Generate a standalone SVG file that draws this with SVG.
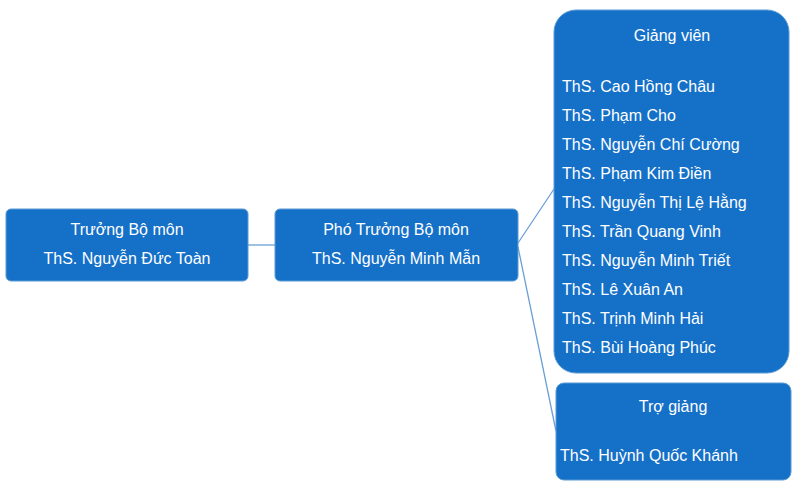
<svg xmlns="http://www.w3.org/2000/svg" width="800" height="490" viewBox="0 0 800 490">
<style>
.box{fill:#1570C8;stroke:#5B9BD5;stroke-width:1}
.t{font-family:"Liberation Sans",Arial,sans-serif;font-size:16px;fill:#FFFFFF}
.c{text-anchor:middle}
.ln{stroke:#6A9FD6;stroke-width:1.3;fill:none}
</style>
<rect width="800" height="490" fill="#FFFFFF"/>
<g id="connectors">
<line class="ln" x1="248" y1="245" x2="275" y2="245"/>
<line class="ln" x1="518" y1="243" x2="554" y2="189"/>
<line class="ln" x1="518" y1="247" x2="556" y2="431"/>
</g>
<g id="truong-bo-mon">
<rect class="box" x="6" y="209" width="242" height="72" rx="5"/>
<text class="t c" x="127" y="235">Trưởng Bộ môn</text>
<text class="t c" x="127" y="264">ThS. Nguyễn Đức Toàn</text>
</g>
<g id="pho-truong-bo-mon">
<rect class="box" x="275" y="209" width="243" height="72" rx="5"/>
<text class="t c" x="396" y="235">Phó Trưởng Bộ môn</text>
<text class="t c" x="396" y="264">ThS. Nguyễn Minh Mẫn</text>
</g>
<g id="giang-vien">
<rect class="box" x="554" y="10" width="235" height="363" rx="22"/>
<text class="t c" x="672" y="41">Giảng viên</text>
<text class="t" x="562" y="92">ThS. Cao Hồng Châu</text>
<text class="t" x="562" y="121">ThS. Phạm Cho</text>
<text class="t" x="562" y="150">ThS. Nguyễn Chí Cường</text>
<text class="t" x="562" y="179">ThS. Phạm Kim Điền</text>
<text class="t" x="562" y="208">ThS. Nguyễn Thị Lệ Hằng</text>
<text class="t" x="562" y="237">ThS. Trần Quang Vinh</text>
<text class="t" x="562" y="266">ThS. Nguyễn Minh Triết</text>
<text class="t" x="562" y="295">ThS. Lê Xuân An</text>
<text class="t" x="562" y="324">ThS. Trịnh Minh Hải</text>
<text class="t" x="562" y="353">ThS. Bùi Hoàng Phúc</text>
</g>
<g id="tro-giang">
<rect class="box" x="556" y="383" width="235" height="97" rx="8"/>
<text class="t c" x="673" y="412">Trợ giảng</text>
<text class="t" x="560" y="461">ThS. Huỳnh Quốc Khánh</text>
</g>
</svg>
